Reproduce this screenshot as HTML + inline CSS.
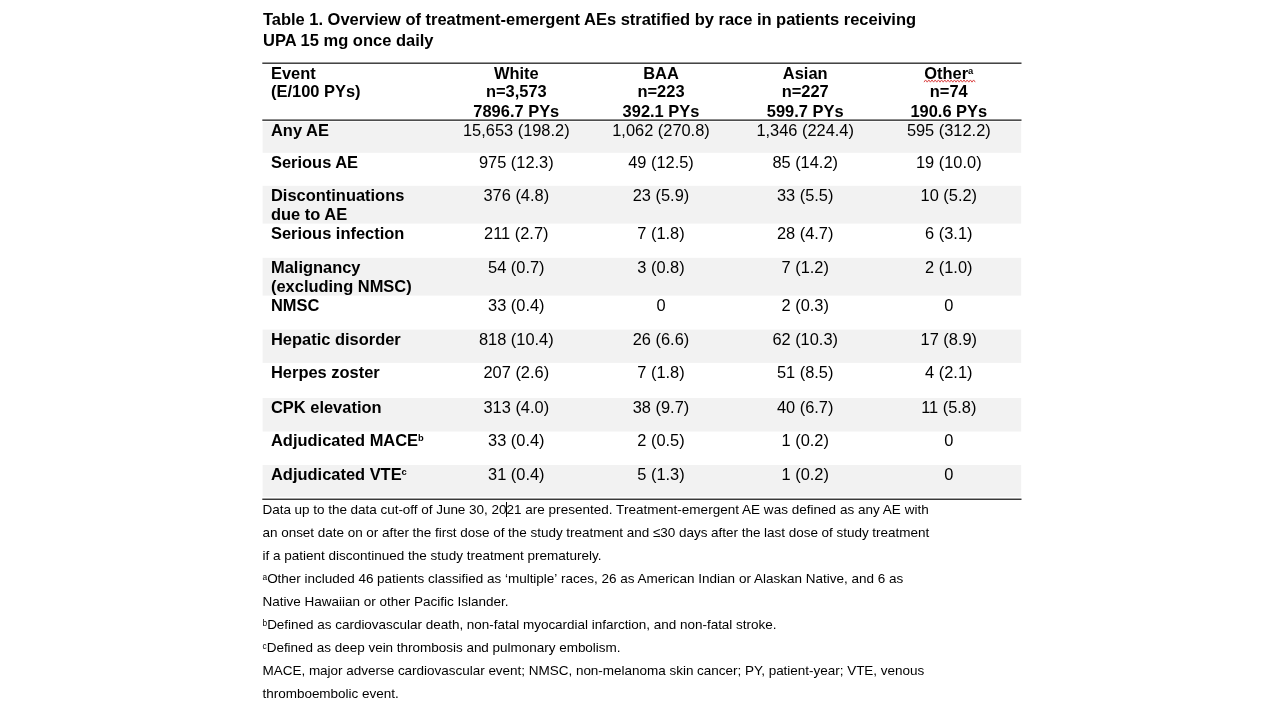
<!DOCTYPE html>
<html lang="en"><head><meta charset="utf-8"><title>Table 1</title>
<style>
html,body{margin:0;padding:0;background:#fff;}
body{width:1280px;height:720px;position:relative;overflow:hidden;font-family:"Liberation Sans",Arial,sans-serif;color:#000;}
.t{position:absolute;white-space:nowrap;}
.title{left:263px;top:9.1px;font-weight:bold;font-size:16.5px;line-height:20.6px;}
.b{font-weight:bold;font-size:16.45px;line-height:19.2px;}
.n{font-size:16.4px;line-height:19.2px;}
.c{width:200px;text-align:center;}
.bg{position:absolute;left:0;top:0;}
sup{font-size:57%;vertical-align:baseline;position:relative;top:-5.3px;line-height:0;}
.f{left:262.5px;font-size:13.5px;line-height:23.1px;}
.f sup{font-size:62%;top:-3.4px;}
.cur{position:absolute;left:506.2px;top:501.7px;width:1px;height:15px;background:#000;}
</style></head><body>
<svg class="bg" width="1280" height="720" viewBox="0 0 1280 720"><rect x="262.6" y="121.7" width="758.6" height="31.1" fill="#f2f2f2"/><rect x="262.6" y="185.8" width="758.6" height="37.8" fill="#f2f2f2"/><rect x="262.6" y="257.8" width="758.6" height="37.8" fill="#f2f2f2"/><rect x="262.6" y="329.6" width="758.6" height="33.3" fill="#f2f2f2"/><rect x="262.6" y="398.0" width="758.6" height="33.5" fill="#f2f2f2"/><rect x="262.6" y="465.0" width="758.6" height="31.8" fill="#f2f2f2"/><rect x="262.3" y="62.5" width="759.2" height="1.4" fill="#303030"/><rect x="262.3" y="119.45" width="759.2" height="1.4" fill="#303030"/><rect x="262.3" y="498.55" width="759.2" height="1.4" fill="#303030"/><path d="M924.00 82.15 L925.60 79.95 L927.20 82.15 L928.80 79.95 L930.40 82.15 L932.00 79.95 L933.60 82.15 L935.20 79.95 L936.80 82.15 L938.40 79.95 L940.00 82.15 L941.60 79.95 L943.20 82.15 L944.80 79.95 L946.40 82.15 L948.00 79.95 L949.60 82.15 L951.20 79.95 L952.80 82.15 L954.40 79.95 L956.00 82.15 L957.60 79.95 L959.20 82.15 L960.80 79.95 L962.40 82.15 L964.00 79.95 L965.60 82.15 L967.20 79.95 L968.80 82.15 L970.40 79.95 L972.00 82.15 L973.60 79.95 L975.20 82.15" fill="none" stroke="#dc4a4a" stroke-width="1" stroke-linejoin="round"/></svg>
<div class="t title"><span style="letter-spacing:-0.02px">Table 1. Overview of treatment-emergent AEs stratified by race in patients receiving</span><br>UPA 15 mg once daily</div>
<div class="t b" style="left:271.0px;top:64px">Event</div>
<div class="t b" style="left:271.0px;top:82px">(E/100 PYs)</div>
<div class="t b c" style="left:416.3px;top:64px">White</div>
<div class="t b c" style="left:416.3px;top:82px">n=3,573</div>
<div class="t b c" style="left:416.3px;top:102px">7896.7 PYs</div>
<div class="t b c" style="left:561.0px;top:64px">BAA</div>
<div class="t b c" style="left:561.0px;top:82px">n=223</div>
<div class="t b c" style="left:561.0px;top:102px">392.1 PYs</div>
<div class="t b c" style="left:705.2px;top:64px">Asian</div>
<div class="t b c" style="left:705.2px;top:82px">n=227</div>
<div class="t b c" style="left:705.2px;top:102px">599.7 PYs</div>
<div class="t b c" style="left:848.8px;top:64px">Other<sup>a</sup></div>
<div class="t b c" style="left:848.8px;top:82px">n=74</div>
<div class="t b c" style="left:848.8px;top:102px">190.6 PYs</div>
<div class="t b" style="left:271.0px;top:121px">Any AE</div>
<div class="t n c" style="left:416.3px;top:121px">15,653 (198.2)</div>
<div class="t n c" style="left:561.0px;top:121px">1,062 (270.8)</div>
<div class="t n c" style="left:705.2px;top:121px">1,346 (224.4)</div>
<div class="t n c" style="left:848.8px;top:121px">595 (312.2)</div>
<div class="t b" style="left:271.0px;top:153px">Serious AE</div>
<div class="t n c" style="left:416.3px;top:153px">975 (12.3)</div>
<div class="t n c" style="left:561.0px;top:153px">49 (12.5)</div>
<div class="t n c" style="left:705.2px;top:153px">85 (14.2)</div>
<div class="t n c" style="left:848.8px;top:153px">19 (10.0)</div>
<div class="t b" style="left:271.0px;top:186px">Discontinuations<br>due to AE</div>
<div class="t n c" style="left:416.3px;top:186px">376 (4.8)</div>
<div class="t n c" style="left:561.0px;top:186px">23 (5.9)</div>
<div class="t n c" style="left:705.2px;top:186px">33 (5.5)</div>
<div class="t n c" style="left:848.8px;top:186px">10 (5.2)</div>
<div class="t b" style="left:271.0px;top:224px">Serious infection</div>
<div class="t n c" style="left:416.3px;top:224px">211 (2.7)</div>
<div class="t n c" style="left:561.0px;top:224px">7 (1.8)</div>
<div class="t n c" style="left:705.2px;top:224px">28 (4.7)</div>
<div class="t n c" style="left:848.8px;top:224px">6 (3.1)</div>
<div class="t b" style="left:271.0px;top:258px">Malignancy<br>(excluding NMSC)</div>
<div class="t n c" style="left:416.3px;top:258px">54 (0.7)</div>
<div class="t n c" style="left:561.0px;top:258px">3 (0.8)</div>
<div class="t n c" style="left:705.2px;top:258px">7 (1.2)</div>
<div class="t n c" style="left:848.8px;top:258px">2 (1.0)</div>
<div class="t b" style="left:271.0px;top:296px">NMSC</div>
<div class="t n c" style="left:416.3px;top:296px">33 (0.4)</div>
<div class="t n c" style="left:561.0px;top:296px">0</div>
<div class="t n c" style="left:705.2px;top:296px">2 (0.3)</div>
<div class="t n c" style="left:848.8px;top:296px">0</div>
<div class="t b" style="left:271.0px;top:330px">Hepatic disorder</div>
<div class="t n c" style="left:416.3px;top:330px">818 (10.4)</div>
<div class="t n c" style="left:561.0px;top:330px">26 (6.6)</div>
<div class="t n c" style="left:705.2px;top:330px">62 (10.3)</div>
<div class="t n c" style="left:848.8px;top:330px">17 (8.9)</div>
<div class="t b" style="left:271.0px;top:363px">Herpes zoster</div>
<div class="t n c" style="left:416.3px;top:363px">207 (2.6)</div>
<div class="t n c" style="left:561.0px;top:363px">7 (1.8)</div>
<div class="t n c" style="left:705.2px;top:363px">51 (8.5)</div>
<div class="t n c" style="left:848.8px;top:363px">4 (2.1)</div>
<div class="t b" style="left:271.0px;top:398px">CPK elevation</div>
<div class="t n c" style="left:416.3px;top:398px">313 (4.0)</div>
<div class="t n c" style="left:561.0px;top:398px">38 (9.7)</div>
<div class="t n c" style="left:705.2px;top:398px">40 (6.7)</div>
<div class="t n c" style="left:848.8px;top:398px">11 (5.8)</div>
<div class="t b" style="left:271.0px;top:431px">Adjudicated MACE<sup>b</sup></div>
<div class="t n c" style="left:416.3px;top:431px">33 (0.4)</div>
<div class="t n c" style="left:561.0px;top:431px">2 (0.5)</div>
<div class="t n c" style="left:705.2px;top:431px">1 (0.2)</div>
<div class="t n c" style="left:848.8px;top:431px">0</div>
<div class="t b" style="left:271.0px;top:465px">Adjudicated VTE<sup>c</sup></div>
<div class="t n c" style="left:416.3px;top:465px">31 (0.4)</div>
<div class="t n c" style="left:561.0px;top:465px">5 (1.3)</div>
<div class="t n c" style="left:705.2px;top:465px">1 (0.2)</div>
<div class="t n c" style="left:848.8px;top:465px">0</div>
<div class="t f" style="top:498px;"><span style="letter-spacing:-0.03px">Data up to the data cut-off of June 30, 20</span><span style="letter-spacing:0.02px">21 are presented. Treatment-emergent AE was defined as any AE with</span></div>
<div class="t f" style="top:521px;letter-spacing:-0.03px;">an onset date on or after the first dose of the study treatment and ≤30 days after the last dose of study treatment</div>
<div class="t f" style="top:544px;">if a patient discontinued the study treatment prematurely.</div>
<div class="t f" style="top:567px;"><span style="letter-spacing:-0.02px"><sup>a</sup>Other included 46 patients classified as ‘multiple’</span> races, 26 as American Indian or Alaskan Native, and 6 as</div>
<div class="t f" style="top:590px;">Native Hawaiian or other Pacific Islander.</div>
<div class="t f" style="top:613px;letter-spacing:-0.02px;"><sup>b</sup>Defined as cardiovascular death, non-fatal myocardial infarction, and non-fatal stroke.</div>
<div class="t f" style="top:636px;letter-spacing:-0.02px;"><sup>c</sup>Defined as deep vein thrombosis and pulmonary embolism.</div>
<div class="t f" style="top:659px;letter-spacing:-0.02px;">MACE, major adverse cardiovascular event; NMSC, non-melanoma skin cancer; PY, patient-year; VTE, venous</div>
<div class="t f" style="top:682px;letter-spacing:-0.02px;">thromboembolic event.</div>
<div class="cur"></div>
</body></html>
